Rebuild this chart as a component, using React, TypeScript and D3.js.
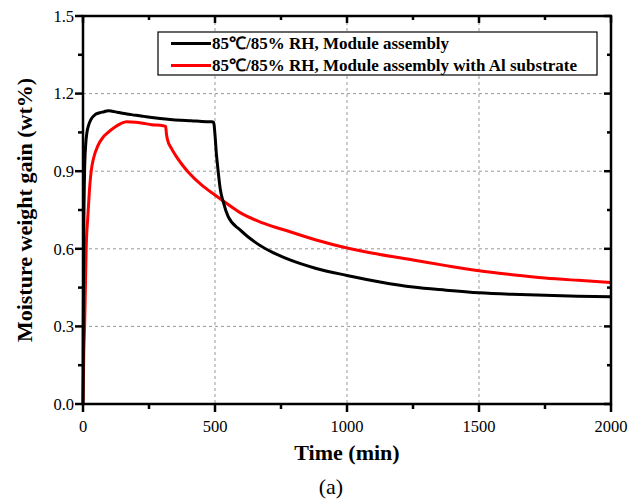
import React from 'react';
import * as d3 from 'd3';

// Black curve: 85C/85% RH, module assembly
const blackTime = [0, 1, 2.5, 6, 10, 15, 22, 30, 45, 60, 80, 95, 110, 130, 150, 175, 200, 230, 260, 292, 330, 370, 410, 450, 487, 495, 500, 505, 512, 520, 531, 550, 595, 657, 720, 784, 880, 1000, 1125, 1250, 1375, 1500, 1625, 1750, 1875, 2000];
const blackValue = [0, 0.3, 0.6, 0.9, 1.0, 1.05, 1.08, 1.1, 1.118, 1.125, 1.13, 1.134, 1.132, 1.128, 1.124, 1.12, 1.116, 1.112, 1.108, 1.104, 1.1, 1.097, 1.095, 1.092, 1.091, 1.088, 1.04, 0.97, 0.9, 0.83, 0.782, 0.724, 0.673, 0.622, 0.585, 0.557, 0.525, 0.497, 0.472, 0.452, 0.44, 0.43, 0.424, 0.42, 0.417, 0.415];

// Red curve: with Al substrate
const redTime = [0, 3, 6, 9, 12, 18, 24, 31, 40, 57, 75, 95, 120, 145, 165, 200, 228, 260, 303, 313, 316, 320, 335, 350, 375, 400, 450, 500, 531, 595, 680, 784, 880, 1000, 1125, 1250, 1375, 1500, 1625, 1750, 1875, 2000];
const redValue = [0, 0.2, 0.3, 0.45, 0.6, 0.72, 0.82, 0.9, 0.95, 1.0, 1.03, 1.05, 1.07, 1.085, 1.091, 1.089, 1.085, 1.08, 1.076, 1.073, 1.045, 1.022, 0.988, 0.962, 0.926, 0.895, 0.846, 0.808, 0.785, 0.74, 0.7, 0.666, 0.635, 0.603, 0.578, 0.557, 0.535, 0.515, 0.5, 0.487, 0.478, 0.47];

const seriesNames = ['85\u2103/85% RH, Module assembly', '85\u2103/85% RH, Module assembly with Al substrate'];
const seriesColors = ['#000000', '#ff0000'];
const xTicks = [0, 500, 1000, 1500, 2000];
const xMinor = [250, 750, 1250, 1750];
const yTicks = [0, 0.3, 0.6, 0.9, 1.2, 1.5];
const yMinor = [0.15, 0.45, 0.75, 1.05, 1.35];

const font = '"Liberation Serif", "Times New Roman", serif';

const App = () => {
  const left = 83, right = 611, top = 16, bottom = 404;
  const x = d3.scaleLinear().domain([0, 2000]).range([left, right]);
  const y = d3.scaleLinear().domain([0, 1.5]).range([bottom, top]);

  const line = d3.line<[number, number]>()
    .x(d => x(d[0]))
    .y(d => y(d[1]))
    .curve(d3.curveMonotoneX);

  const black = blackTime.map((t, i) => [t, blackValue[i]] as [number, number]);
  const red = redTime.map((t, i) => [t, redValue[i]] as [number, number]);

  const grid = '#999999';

  return (
    <svg width={642} height={502} style={{ position: 'absolute', left: 0, top: 0, background: '#fff' }}>
      <rect width={642} height={502} fill="#fff" />
      {/* grid */}
      {xTicks.slice(1, -1).map(t => (
        <line key={'gx' + t} x1={x(t)} x2={x(t)} y1={top} y2={bottom} stroke={grid} strokeWidth={1} strokeDasharray="3,3" />
      ))}
      {yTicks.slice(1, -1).map(t => (
        <line key={'gy' + t} x1={left} x2={right} y1={y(t)} y2={y(t)} stroke={grid} strokeWidth={1} strokeDasharray="3,3" />
      ))}

      {/* curves */}
      <path d={line(red) || ''} fill="none" stroke={seriesColors[1]} strokeWidth={3} strokeLinejoin="round" />
      <path d={line(black) || ''} fill="none" stroke={seriesColors[0]} strokeWidth={3} strokeLinejoin="round" />

      {/* frame */}
      <rect x={left} y={top} width={right - left} height={bottom - top} fill="none" stroke="#000" strokeWidth={2.5} />

      {/* x ticks */}
      {xTicks.map(t => (
        <g key={'xt' + t}>
          <line x1={x(t)} x2={x(t)} y1={bottom} y2={bottom + 8} stroke="#000" strokeWidth={2.5} />
          <line x1={x(t)} x2={x(t)} y1={top} y2={top + 7} stroke="#000" strokeWidth={2.5} />
          <text x={x(t)} y={432} textAnchor="middle" fontFamily={font} fontSize={16.5}>{t}</text>
        </g>
      ))}
      {xMinor.map(t => (
        <g key={'xm' + t}>
          <line x1={x(t)} x2={x(t)} y1={bottom} y2={bottom + 5} stroke="#000" strokeWidth={2.5} />
          <line x1={x(t)} x2={x(t)} y1={top} y2={top + 4} stroke="#000" strokeWidth={2.5} />
        </g>
      ))}

      {/* y ticks */}
      {yTicks.map(t => (
        <g key={'yt' + t}>
          <line x1={left - 8} x2={left} y1={y(t)} y2={y(t)} stroke="#000" strokeWidth={2.5} />
          <line x1={right - 7} x2={right} y1={y(t)} y2={y(t)} stroke="#000" strokeWidth={2.5} />
          <text x={74} y={y(t)} dy="0.35em" textAnchor="end" fontFamily={font} fontSize={16.5}>{t.toFixed(1)}</text>
        </g>
      ))}
      {yMinor.map(t => (
        <g key={'ym' + t}>
          <line x1={left - 5} x2={left} y1={y(t)} y2={y(t)} stroke="#000" strokeWidth={2.5} />
          <line x1={right - 4} x2={right} y1={y(t)} y2={y(t)} stroke="#000" strokeWidth={2.5} />
        </g>
      ))}

      {/* axis titles */}
      <text x={347} y={460} textAnchor="middle" fontFamily={font} fontSize={22} fontWeight="bold">Time (min)</text>
      <text transform={`translate(32,${(top + bottom) / 2}) rotate(-90)`} textAnchor="middle" fontFamily={font} fontSize={22} fontWeight="bold">Moisture weight gain (wt%)</text>
      <text x={331} y={494} textAnchor="middle" fontFamily={font} fontSize={22}>(a)</text>

      {/* legend */}
      <rect x={158} y={32} width={439} height={43} fill="#fff" stroke="#000" strokeWidth={1.2} />
      {seriesNames.map((name, i) => (
        <g key={'lg' + i}>
          <line x1={171} x2={211} y1={43.5 + i * 22} y2={43.5 + i * 22} stroke={seriesColors[i]} strokeWidth={3} />
          <text x={212} y={43.5 + i * 22} dy="0.35em" fontFamily={font} fontSize={17} fontWeight="bold">{name}</text>
        </g>
      ))}
    </svg>
  );
};

export default App;
